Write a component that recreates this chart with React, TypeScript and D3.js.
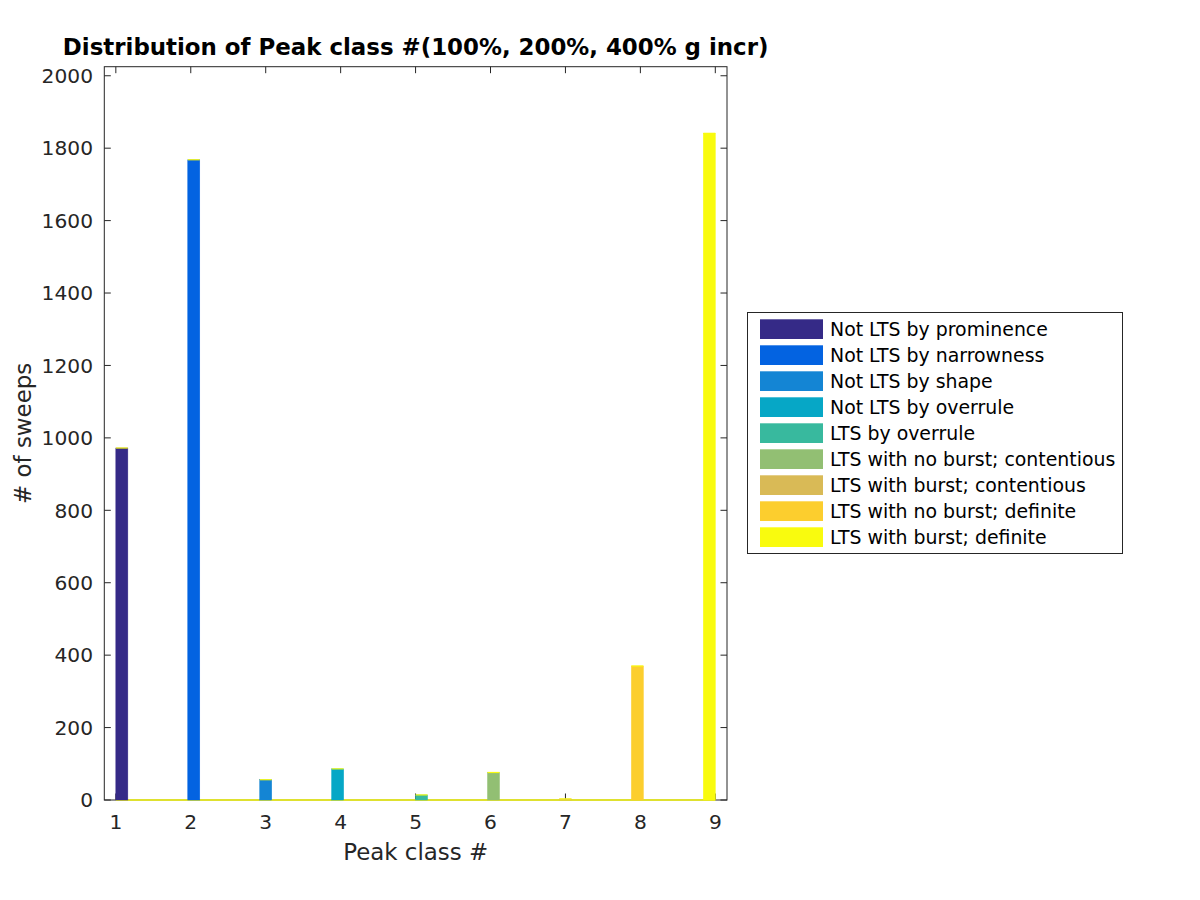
import React from 'react';
import * as d3 from 'd3';

const classes = [1, 2, 3, 4, 5, 6, 7, 8, 9];
const seriesNames = [
  'Not LTS by prominence',
  'Not LTS by narrowness',
  'Not LTS by shape',
  'Not LTS by overrule',
  'LTS by overrule',
  'LTS with no burst; contentious',
  'LTS with burst; contentious',
  'LTS with no burst; definite',
  'LTS with burst; definite',
];
const seriesColors = [
  '#352a87', '#0363e1', '#1485d4', '#06a7c6', '#38b99e',
  '#92bf73', '#d9ba56', '#fcce2e', '#f9fb0e',
];
// histogram bin centres (bin width 0.16 between 1 and 9) where each class falls
const binCenters = [1.08, 2.04, 3.0, 3.96, 5.08, 6.04, 7.0, 7.96, 8.92];
const counts = [972, 1768, 56, 86, 14, 76, 3, 370, 1841];
const binWidth = 0.16;
const histRange = [1, 9];
const yTicks = [0, 200, 400, 600, 800, 1000, 1200, 1400, 1600, 1800, 2000];
const xTicks = [1, 2, 3, 4, 5, 6, 7, 8, 9];

const FONT = 'DejaVu Sans, sans-serif';
const AX = '#262626';

export default function App() {
  const L = 104.3, R = 727, T = 66.7, B = 800;
  const x = d3.scaleLinear().domain([0.846, 9.156]).range([L, R]);
  const y = d3.scaleLinear().domain([0, 2025]).range([B, T]);
  const tl = 6.5;
  const topColor = seriesColors[seriesColors.length - 1];

  return (
    <svg width={1200} height={900} style={{ position: 'absolute', left: 0, top: 0, background: '#fff' }} fontFamily={FONT}>
      <rect x={0} y={0} width={1200} height={900} fill="#fff" />
      {/* axes box */}
      <rect x={L} y={T} width={R - L} height={B - T} fill="#fff" stroke={AX} strokeWidth={1} />
      {xTicks.map((t) => (
        <g key={'xt' + t}>
          <line x1={x(t)} x2={x(t)} y1={B} y2={B - tl} stroke={AX} strokeWidth={1} />
          <line x1={x(t)} x2={x(t)} y1={T} y2={T + tl} stroke={AX} strokeWidth={1} />
          <text x={x(t)} y={829} textAnchor="middle" fontSize={20.2} fill={AX}>{t}</text>
        </g>
      ))}
      {yTicks.map((t) => (
        <g key={'yt' + t}>
          <line x1={L} x2={L + tl} y1={y(t)} y2={y(t)} stroke={AX} strokeWidth={1} />
          <line x1={R} x2={R - tl} y1={y(t)} y2={y(t)} stroke={AX} strokeWidth={1} />
          <text x={93} y={y(t)} dy="0.36em" textAnchor="end" fontSize={20.2} fill={AX}>{t}</text>
        </g>
      ))}
      {/* zero-height stacked bins form the baseline */}
      <line x1={x(histRange[0])} x2={x(histRange[1])} y1={y(0)} y2={y(0)} stroke={topColor} strokeWidth={1.5} />
      {classes.map((c, i) => {
        const x0 = x(binCenters[i] - binWidth / 2);
        const x1 = x(binCenters[i] + binWidth / 2);
        return (
          <g key={'bar' + c}>
            <rect x={x0} y={y(counts[i])} width={x1 - x0} height={y(0) - y(counts[i])} fill={seriesColors[i]} stroke={seriesColors[i]} strokeWidth={0.5} />
            <line x1={x0} x2={x1} y1={y(counts[i])} y2={y(counts[i])} stroke={topColor} strokeWidth={1.2} />
          </g>
        );
      })}
      {/* title and labels */}
      <text x={(L + R) / 2} y={55} textAnchor="middle" fontSize={22.9} fontWeight="bold" fill="#000">
        Distribution of Peak class #(100%, 200%, 400% g incr)
      </text>
      <text x={(L + R) / 2} y={860} textAnchor="middle" fontSize={22.9} fill={AX}>Peak class #</text>
      <text transform={`translate(31,${(T + B) / 2}) rotate(-90)`} textAnchor="middle" fontSize={22.9} fill={AX}># of sweeps</text>
      {/* legend */}
      <rect x={747.5} y={312.5} width={375} height={241} fill="#fff" stroke={AX} strokeWidth={1} />
      {seriesNames.map((n, i) => (
        <g key={'lg' + i}>
          <rect x={760} y={319.3 + 26 * i} width={63} height={19.7} fill={seriesColors[i]} />
          <text x={830} y={319.3 + 26 * i + 9.85} dy="0.36em" fontSize={18.9} fill="#000">{n}</text>
        </g>
      ))}
    </svg>
  );
}
